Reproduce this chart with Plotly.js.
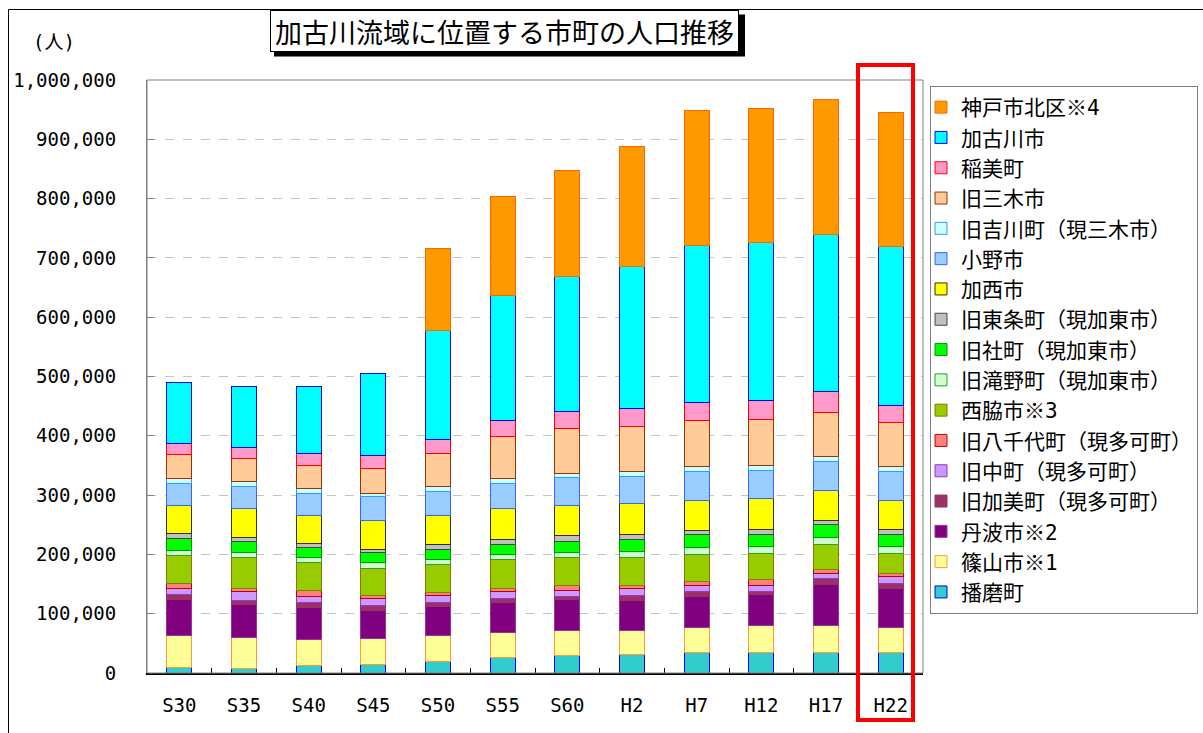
<!DOCTYPE html>
<html>
<head>
<meta charset="utf-8">
<script src="https://cdn.plot.ly/plotly-3.0.1.min.js"></script>
<style>
  html, body { margin: 0; padding: 0; background: #fff; }
  #chart { width: 1203px; height: 733px; }
</style>
</head>
<body>
<div id="chart"></div>
<script>
// Categories (survey years)
const categories = ['S30','S35','S40','S45','S50','S55','S60','H2','H7','H12','H17','H22'];

// Population by municipality (persons), bottom of stack first
const harima    = [9000, 8400, 12300, 14200, 19700, 25900, 28700, 31500, 33800, 33800, 33800, 33800];
const sasayama  = [53500, 50700, 45000, 43200, 42800, 42200, 42200, 39400, 42700, 45500, 45500, 42700];
const tamba     = [60800, 56400, 52400, 48500, 50000, 50100, 52900, 51800, 52900, 52900, 70400, 65900];
const kami      = [8400, 7300, 9000, 8400, 6800, 7300, 5600, 7900, 7900, 5100, 9600, 8400];
const nakacho   = [11300, 15200, 10100, 11300, 11300, 11800, 10200, 11200, 10700, 10700, 8400, 11200];
const yachiyo   = [8400, 4600, 9600, 5600, 5600, 5100, 8400, 6200, 6200, 9000, 6800, 5700];
const nishiwaki = [46100, 52400, 47800, 45100, 46100, 48900, 46700, 46700, 45600, 45000, 42200, 34300];
const takino    = [9000, 8400, 8400, 9500, 9000, 9000, 8500, 10700, 11200, 11800, 11800, 11800];
const yashiro   = [19800, 19000, 17600, 16900, 16900, 16900, 19100, 19700, 22500, 20200, 21900, 20200];
const tojo      = [9600, 6300, 6100, 6300, 9000, 8500, 9000, 9000, 6800, 8000, 6200, 8000];
const kasai     = [47300, 49000, 48000, 47800, 48400, 51200, 51700, 51800, 50600, 51800, 51800, 48900];
const ono       = [37200, 37200, 37200, 40500, 40500, 42700, 46200, 46100, 49200, 48200, 48200, 49200];
const yokawa    = [8400, 7800, 8400, 5700, 8200, 8500, 7300, 7300, 8300, 8300, 8900, 8300];
const miki      = [40500, 39500, 37200, 42200, 56600, 70000, 75700, 75700, 77600, 77500, 73800, 74400];
const inami     = [17400, 17900, 20300, 20800, 23700, 28100, 28200, 31500, 30500, 31800, 35000, 28600];
const kakogawa  = [102500, 103000, 114000, 139700, 182900, 211100, 228000, 239800, 263800, 265800, 265100, 268200];
const kobeKita  = [null, null, null, null, 138000, 166700, 179600, 202200, 228700, 226900, 226900, 226400];

// Series names (legend labels), same order as above
const seriesNames = ['播磨町','篠山市※1','丹波市※2','旧加美町（現多可町）','旧中町（現多可町）','旧八千代町（現多可町）',
  '西脇市※3','旧滝野町（現加東市）','旧社町（現加東市）','旧東条町（現加東市）','加西市','小野市',
  '旧吉川町（現三木市）','旧三木市','稲美町','加古川市','神戸市北区※4'];
const seriesValues = [harima, sasayama, tamba, kami, nakacho, yachiyo, nishiwaki, takino, yashiro, tojo,
  kasai, ono, yokawa, miki, inami, kakogawa, kobeKita];
const fillColors = ['#33CCCC','#FFFF99','#800080','#993366','#CC99FF','#FF8080',
  '#99CC00','#CCFFCC','#00FF00','#C0C0C0','#FFFF00','#99CCFF',
  '#CCFFFF','#FFCC99','#FF99CC','#00FFFF','#FF9900'];
const lineColors = ['#0000FF','#FF9933','#993399','#993366','#9933CC','#C00000',
  '#808000','#339933','#009900','#444444','#333300','#3366FF',
  '#3399FF','#993300','#FF0000','#0000FF','#FF6600'];

const baseFont = 'DejaVu Sans Mono, Noto Sans CJK JP, sans-serif';

const traces = seriesNames.map((name, i) => ({
  type: 'bar',
  name: name,
  x: categories,
  y: seriesValues[i],
  marker: { color: fillColors[i], line: { color: lineColors[i], width: 1 } },
  hoverinfo: 'x+y+name'
}));

// plot area in pixels: left 147, right 923, top 80, bottom 673
const L = 147, R = 923, T = 80, B = 673;
const px = v => (v - L) / (R - L);
const py = v => (B - v) / (B - T);

const layout = {
  width: 1203, height: 733,
  paper_bgcolor: '#ffffff', plot_bgcolor: '#ffffff',
  margin: { l: L, r: 1203 - R, t: T, b: 733 - B, autoexpand: false },
  barmode: 'stack',
  bargap: 0.61,
  font: { family: baseFont, size: 19, color: '#000' },
  showlegend: true,
  legend: {
    xref: 'container', yref: 'container',
    x: 930 / 1203, y: 1 - 86 / 733,
    xanchor: 'left', yanchor: 'top',
    traceorder: 'reversed',
    maxheight: 640,
    indentation: -10,
    bgcolor: '#ffffff', bordercolor: '#808080', borderwidth: 1,
    font: { family: baseFont, size: 21, color: '#000' },
    itemwidth: 30
  },
  xaxis: {
    type: 'category',
    showline: true, linecolor: '#000', linewidth: 1.5,
    ticks: 'inside', tickson: 'boundaries', ticklen: 5, tickcolor: '#000', tickwidth: 1,
    ticklabelstandoff: 14,
    tickfont: { family: baseFont, size: 19, color: '#000' },
    showgrid: false, zeroline: false, fixedrange: true
  },
  yaxis: {
    range: [0, 1000000], dtick: 100000, tick0: 0,
    tickformat: ',d',
    showgrid: true, gridcolor: '#c4c4c4', griddash: 'dash', gridwidth: 1,
    showline: true, linecolor: '#808080', linewidth: 1,
    ticks: 'inside', ticklen: 7, tickcolor: '#808080',
    ticklabelstandoff: 26,
    tickfont: { family: baseFont, size: 19, color: '#000' },
    zeroline: false, fixedrange: true
  },
  shapes: [
    // plot area frame
    { type: 'rect', xref: 'paper', yref: 'paper', x0: 0, x1: 1, y0: 0, y1: 1,
      line: { color: '#808080', width: 1 }, layer: 'above' },
    // outer chart border (top + left)
    { type: 'line', xref: 'paper', yref: 'paper', x0: px(8.5), x1: px(1210), y0: py(9.5), y1: py(9.5),
      line: { color: '#000', width: 1 } },
    { type: 'line', xref: 'paper', yref: 'paper', x0: px(8.5), x1: px(8.5), y0: py(9.5), y1: py(745),
      line: { color: '#000', width: 1 } },
    // title shadow
    { type: 'rect', xref: 'paper', yref: 'paper', x0: px(274), x1: px(745), y0: py(56.5), y1: py(14.5),
      fillcolor: '#000', line: { width: 0 } },
    // red highlight box around H22
    { type: 'rect', xref: 'paper', yref: 'paper', x0: px(858), x1: px(913), y0: py(720), y1: py(65),
      line: { color: '#FF0000', width: 4 }, layer: 'above' }
  ],
  annotations: [
    { text: '加古川流域に位置する市町の人口推移', xref: 'paper', yref: 'paper',
      x: px(269.5), y: py(9.5), xanchor: 'left', yanchor: 'top',
      showarrow: false, width: 463, height: 36, align: 'center', valign: 'middle',
      bgcolor: '#ffffff', bordercolor: '#000', borderwidth: 1, borderpad: 2,
      font: { family: 'Noto Sans CJK JP, sans-serif', size: 27, color: '#000' } },
    { text: '(人)', xref: 'paper', yref: 'paper', x: px(54), y: py(42),
      xanchor: 'center', yanchor: 'middle', showarrow: false,
      font: { family: baseFont, size: 19, color: '#000' } }
  ]
};

Plotly.newPlot('chart', traces, layout, { displayModeBar: false, responsive: false });
</script>
</body>
</html>
